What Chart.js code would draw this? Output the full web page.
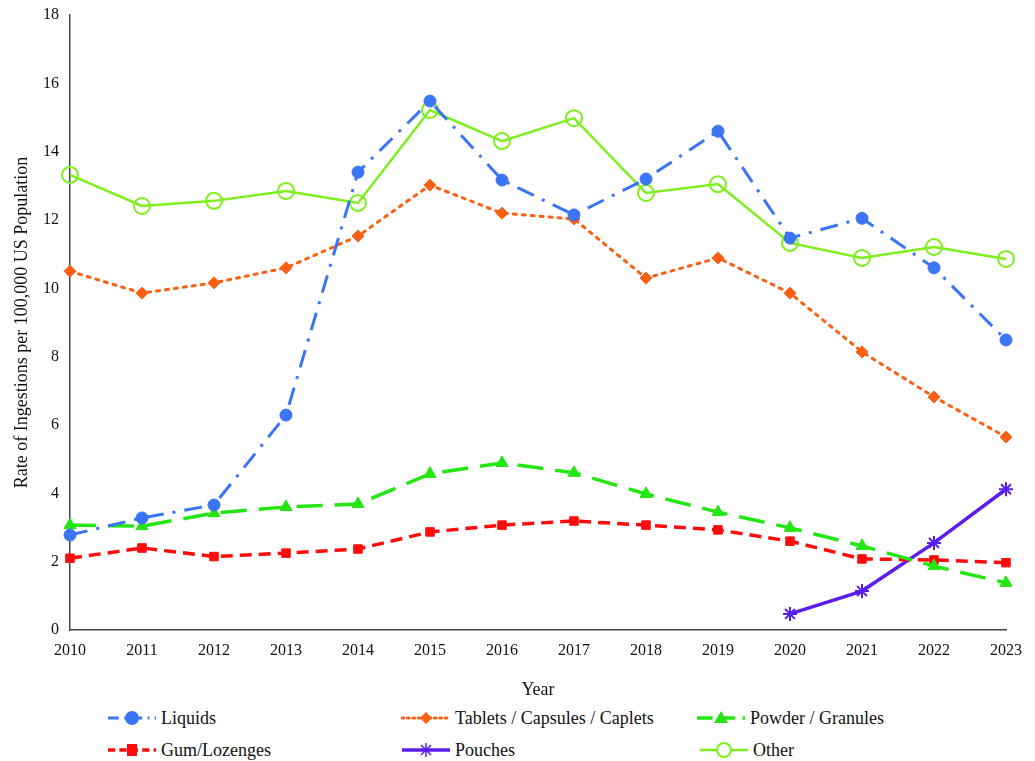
<!DOCTYPE html>
<html>
<head>
<meta charset="utf-8">
<script src="https://cdn.jsdelivr.net/npm/chart.js@4/dist/chart.umd.min.js"></script>
<style>
  body { margin: 0; background: #fff; }
  #wrap { position: relative; width: 1035px; height: 761px; }
  #box { position: absolute; left: 0; top: 0; width: 1035px; height: 705px; }
  .leg { position: absolute; display: flex; align-items: center; height: 22px; font-family: "Liberation Serif", "DejaVu Serif", serif; font-size: 18px; color: #111; white-space: nowrap; }
  .leg svg { margin-right: 4px; }
</style>
</head>
<body>
<div id="wrap">
  <div id="box"><canvas id="lineChart"></canvas></div>
  <div id="legend"></div>
</div>
<script>
/* =========================
   DATA
========================= */
const years = ["2010", "2011", "2012", "2013", "2014", "2015", "2016", "2017", "2018", "2019", "2020", "2021", "2022", "2023"];

const liquids  = [2.78, 3.28, 3.66, 6.29, 13.4, 15.48, 13.17, 12.15, 13.2, 14.6, 11.47, 12.05, 10.6, 8.49];
const tablets  = [10.5, 9.86, 10.16, 10.6, 11.53, 13.02, 12.2, 12.03, 10.3, 10.89, 9.86, 8.14, 6.82, 5.65];
const powder   = [3.07, 3.04, 3.42, 3.6, 3.69, 4.57, 4.89, 4.6, 3.98, 3.45, 2.99, 2.46, 1.87, 1.38];
const gum      = [2.1, 2.4, 2.15, 2.25, 2.37, 2.87, 3.07, 3.19, 3.07, 2.93, 2.6, 2.08, 2.05, 1.97];
const pouches  = [null, null, null, null, null, null, null, null, null, null, 0.47, 1.14, 2.55, 4.12];
const other    = [13.32, 12.41, 12.56, 12.85, 12.5, 15.22, 14.31, 14.98, 12.79, 13.05, 11.33, 10.89, 11.21, 10.86];

const yTicks = [0, 2, 4, 6, 8, 10, 12, 14, 16, 18];

const FONT = "'Liberation Serif', 'DejaVu Serif', serif";

/* =========================
   SERIES STYLES
========================= */
const series = [
  { label: "Liquids", data: liquids, color: "#3b74f4", dash: [18, 9, 3, 9], width: 3, point: "circle", radius: 6, fill: true, cap: "butt" },
  { label: "Tablets / Capsules / Caplets", data: tablets, color: "#fb5f14", dash: [3, 6], width: 3, point: "rectRot", radius: 6, fill: true, cap: "round" },
  { label: "Powder / Granules", data: powder, color: "#23e612", dash: [26, 12], width: 3.5, point: "triangle", radius: 7, fill: true, cap: "butt" },
  { label: "Gum/Lozenges", data: gum, color: "#fe0b0b", dash: [12, 7], width: 3.5, point: "rect", radius: 6, fill: true, cap: "butt" },
  { label: "Pouches", data: pouches, color: "#5a1df0", dash: [], width: 3.5, point: "star", radius: 7, fill: true, cap: "butt" },
  { label: "Other", data: other, color: "#7def1c", dash: [], width: 2.5, point: "circle", radius: 8, fill: false, cap: "butt" }
];

const lineCtx = document.getElementById("lineChart");

new Chart(lineCtx, {
  type: "line",
  data: {
    labels: years,
    datasets: series.map(s => ({
      label: s.label,
      data: s.data,
      borderColor: s.color,
      backgroundColor: s.fill ? s.color : "#ffffff",
      borderDash: s.dash,
      borderCapStyle: s.cap,
      borderWidth: s.width,
      pointStyle: s.point,
      pointRadius: s.radius,
      pointBorderColor: s.color,
      pointBackgroundColor: s.fill ? s.color : "rgba(255,255,255,0)",
      pointBorderWidth: s.fill ? (s.point === "star" ? 2 : 1) : 2,
      tension: 0,
      spanGaps: false
    }))
  },
  options: {
    responsive: true,
    maintainAspectRatio: false,
    animation: false,
    layout: { padding: { top: 15, right: 29, left: 0, bottom: 0 } },
    plugins: {
      legend: { display: false },
      tooltip: { enabled: false }
    },
    scales: {
      x: {
        offset: false,
        grid: { display: false, drawTicks: true, tickLength: 6, color: "#444" },
        border: { display: true, color: "#444", width: 1.5 },
        ticks: { color: "#111", font: { family: FONT, size: 16 }, maxRotation: 0, autoSkip: false, padding: 5 },
        title: { display: true, text: "Year", color: "#111", font: { family: FONT, size: 18 }, padding: { top: 11 } },
        afterFit: (scale) => { scale.height = 705 - 630; }
      },
      y: {
        min: 0,
        max: 18,
        afterBuildTicks: (scale) => { scale.ticks = yTicks.map(v => ({ value: v })); },
        grid: { display: false, drawTicks: true, tickLength: 6, color: "#444" },
        border: { display: true, color: "#444", width: 1.5 },
        ticks: { color: "#111", font: { family: FONT, size: 16 }, padding: 5 },
        title: { display: true, text: "Rate of Ingestions per 100,000 US Population", color: "#111", font: { family: FONT, size: 18 }, padding: { top: 11, bottom: 4 } },
        afterFit: (scale) => { scale.width = 70; }
      }
    }
  }
});

/* =========================
   LEGEND (HTML)
========================= */
// left edge of each label text, and row centre
const legendPos = [
  [161, 718], [455, 718], [750, 718],
  [161, 750], [455, 750], [753, 750]
];

function markerSvg(s) {
  const cx = 25, cy = 11, c = s.color;
  const fill = s.fill ? c : "#fff";
  switch (s.point) {
    case "circle": return `<circle cx="${cx}" cy="${cy}" r="${s.fill ? 6 : 7}" fill="${fill}" stroke="${c}" stroke-width="2"/>`;
    case "rectRot": return `<polygon points="${cx},${cy - 6} ${cx + 6},${cy} ${cx},${cy + 6} ${cx - 6},${cy}" fill="${c}"/>`;
    case "triangle": return `<polygon points="${cx},${cy - 7} ${cx + 7},${cy + 5} ${cx - 7},${cy + 5}" fill="${c}"/>`;
    case "rect": return `<rect x="${cx - 5}" y="${cy - 6}" width="10" height="12" fill="${c}"/>`;
    case "star": return `<path d="M${cx - 5} ${cy - 5}L${cx + 5} ${cy + 5}M${cx + 5} ${cy - 5}L${cx - 5} ${cy + 5}M${cx} ${cy - 7}L${cx} ${cy + 7}" stroke="${c}" stroke-width="1.5"/>`;
  }
  return "";
}

const legendEl = document.getElementById("legend");
series.forEach((s, i) => {
  const d = document.createElement("div");
  d.className = "leg";
  d.style.left = (legendPos[i][0] - 54) + "px";
  d.style.top = (legendPos[i][1] - 11) + "px";
  const dash = s.dash.length ? `stroke-dasharray="${s.dash.map(v => v * 0.6).join(" ")}"` : "";
  d.innerHTML =
    `<svg width="50" height="22"><line x1="1" y1="11" x2="49" y2="11" stroke="${s.color}" stroke-width="${s.width}" ${dash} stroke-linecap="${s.cap}"/>${markerSvg(s)}</svg>` +
    `<span>${s.label}</span>`;
  legendEl.appendChild(d);
});
</script>
</body>
</html>
